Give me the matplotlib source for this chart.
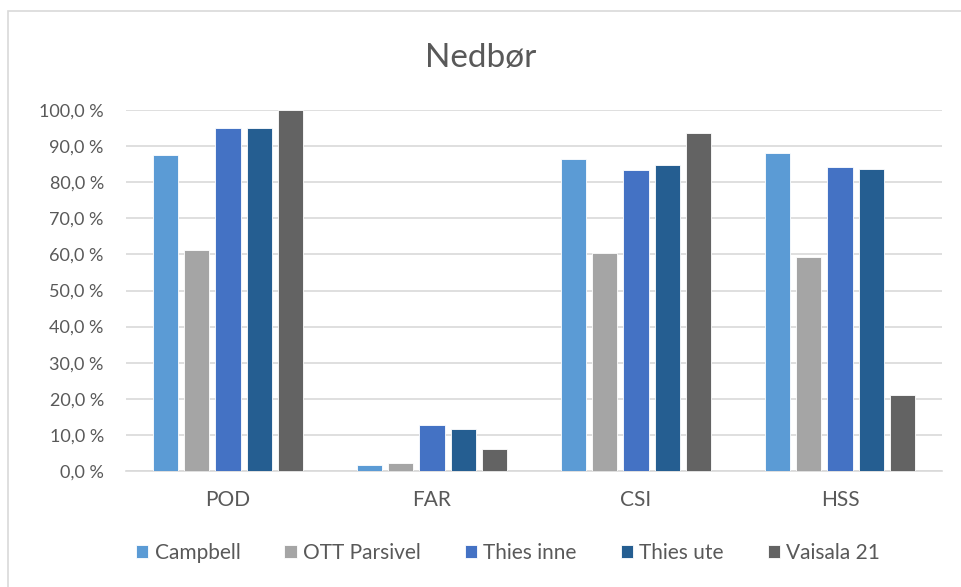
import matplotlib
matplotlib.use('Agg')
import matplotlib.pyplot as plt
import numpy as np
from matplotlib.patches import Rectangle
from matplotlib.ticker import FuncFormatter

plt.rcParams['font.family'] = ['Lato', 'DejaVu Sans']

# Scores per instrument (percent)
categories = ['POD', 'FAR', 'CSI', 'HSS']
series_names = ['Campbell', 'OTT Parsivel', 'Thies inne', 'Thies ute', 'Vaisala 21']
campbell = [87.6, 1.6, 86.5, 88.2]
ott_parsivel = [61.2, 2.3, 60.4, 59.3]
thies_inne = [94.9, 12.7, 83.4, 84.3]
thies_ute = [94.9, 11.5, 84.8, 83.7]
vaisala_21 = [100.0, 6.1, 93.7, 21.1]
colors = ['#5B9BD5', '#A5A5A5', '#4472C4', '#255E91', '#636363']

values = [campbell, ott_parsivel, thies_inne, thies_ute, vaisala_21]
text_color = '#595959'
grid_color = '#D9D9D9'

fig = plt.figure(figsize=(9.61, 5.87), dpi=100)
ax = fig.add_axes([126 / 961, 116 / 587, 816 / 961, 361 / 587])

x = np.arange(len(categories))
step = 0.154
width = 0.124
for i, (name, vals, c) in enumerate(zip(series_names, values, colors)):
    offs = (i - 2) * step
    ax.bar(x + offs, vals, width=width, color=c, label=name,
           edgecolor='white', linewidth=0.6, zorder=3)

ax.set_xlim(-0.5, len(categories) - 0.5)
ax.set_ylim(0, 100)
ax.set_yticks(np.arange(0, 101, 10))
ax.yaxis.set_major_formatter(FuncFormatter(lambda v, p: f'{v:.1f} %'.replace('.', ',')))
ax.set_xticks(x)
ax.set_xticklabels(categories)
ax.tick_params(axis='both', length=0, colors=text_color)
ax.tick_params(axis='y', labelsize=13, pad=16)
ax.tick_params(axis='x', labelsize=15, pad=14)
ax.grid(axis='y', color=grid_color, linewidth=1.2, zorder=0)
for s in ['left', 'right', 'top']:
    ax.spines[s].set_visible(False)
ax.spines['bottom'].set_color(grid_color)
ax.spines['bottom'].set_linewidth(1.2)

fig.text(0.5, 1 - 58 / 587, 'Nedbør', ha='center', va='center',
         fontsize=24, color=text_color)

fig.legend(loc='center', bbox_to_anchor=(508 / 961, 1 - 553 / 587), ncol=5,
           frameon=False, fontsize=15, labelcolor=text_color,
           handlelength=0.6, handleheight=0.6, handletextpad=0.3,
           columnspacing=2.1)

# chart area border (runs off the right and bottom edges)
fig.patches.append(Rectangle((8 / 961, -0.05), 1.05, 1 - 11 / 587 + 0.05,
                             transform=fig.transFigure, fill=False,
                             edgecolor=grid_color, linewidth=1.2))

fig.savefig('out.png', dpi=100)
